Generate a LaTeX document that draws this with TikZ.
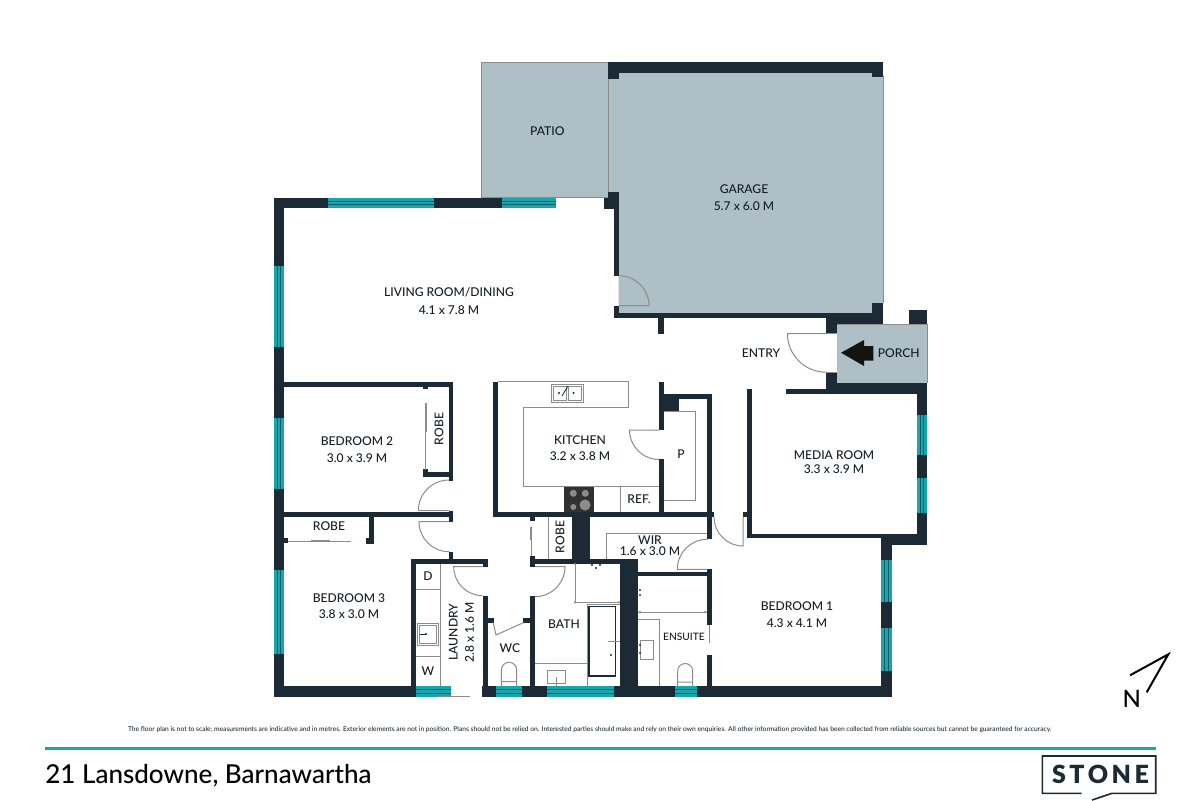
\documentclass[tikz,border=0pt]{standalone}
\usepackage{fontspec}
\setmainfont{Lato Medium}
\newfontfamily\logofont[LetterSpace=14]{Lato Black}
\definecolor{wallc}{HTML}{1B2A35}
\definecolor{slabc}{HTML}{AEC0C6}
\definecolor{glassc}{HTML}{18A6AC}
\definecolor{fixc}{HTML}{8C8C8C}
\definecolor{arrowc}{HTML}{12140F}
\tikzset{
	wall/.style={fill=wallc,draw=none},
	glass/.style={fill=glassc,draw=none},
	glassline/.style={draw=wallc!60!glassc,line width=.25pt},
	fixture/.style={draw=fixc,line width=.5pt},
	roomlabel/.style={text=wallc!70!black,font=\fontsize{6.05}{7}\selectfont,inner sep=0,outer sep=0,align=center}
}
\newcommand{\swing}[5]{\draw[fixture] (#1,#2) -- +(#3:#5) arc[start angle=#3,end angle=#4,radius=#5];}
\begin{document}
\begin{tikzpicture}[x=.5pt,y=-.5pt]
	\useasboundingbox (0,0) rectangle (1200,800);
	\fill[slabc] (481,62) rectangle (608,197.6);
	\fill[slabc] (608,62) -- (883,62) -- (883,313) -- (618.7,313) -- (618.7,197.6) -- (608,197.6) -- cycle;
	\fill[slabc] (836.7,324) rectangle (927,383);
	\draw[fixture] (608,197.6) -- (481,197.6) -- (481,62) -- (608,62) -- (608,192);
	\draw[fixture] (883,76) -- (883,303);
	\draw[fixture] (836.7,324) -- (927,324) -- (927,383);
	\foreach \xa/\ya/\xb/\yb in {608/62/883/73, 608/73/619/79, 872/73/883/76.5, 872/303/883/318, 613.7/313/883/318, 826/318/883/324, 826/324/836.7/333.7, 826/372/836.7/394, 826/383/927/394, 909/310/927/324, 786/389.3/826/394, 614/208.7/619/275.7, 608/192/619/197.6, 604/197.6/619/208.7, 613.7/305.7/618.7/318, 658/318/663.7/334, 273.7/197.7/284.3/696.7, 273.7/197.7/555.7/208.3, 273.7/686/450.7/697, 481.7/686/892/697, 881/538/892/697, 916.7/394/927/544.7, 746.7/533.7/927/538.3, 881/538/927/544.7, 746.7/389.3/751.7/538, 742.7/512/751/517.3, 284/381.7/453.3/386.7, 449/381.7/453.3/480.7, 423/386.7/428/388.5, 423/469/428/476.7, 423/471.7/453/476.7, 284/512.3/453.3/517.3, 449/510.7/453.3/521.7, 369.3/517/374.3/544, 366/538.3/374.3/544, 284/538.3/288/543, 449/551.7/453.3/560, 410.7/559/488/564, 482.7/559/488/566.7, 410.7/559/416/686, 482.7/595.7/488/686, 488/617.7/494.3/622.7, 530/595.7/535/686, 522.7/617.7/530/622.7, 493.3/381.7/498/517, 493.3/512.3/714/517, 659/381.7/663.7/430, 659/459.3/663.7/512.3, 659/394/679.3/411.3, 659/394/712/399, 707.3/394/712/539.3, 707.3/569.3/712/625, 707.3/655.3/712/686, 638.3/571.7/707.3/576, 620/559/638.3/686, 530/559/638/564, 530/556/535/566.7, 530/517/535/520.7, 571.7/517/590/559}
		\fill[wall] (\xa,\ya) rectangle (\xb,\yb);
	\foreach \xa/\xb/\ya/\yb in {327.7/434.3/197.7/208.3, 501.7/555.7/197.7/208.3, 416/450.7/686/697, 495.7/521.7/686/697, 546.7/614/686/697, 674.7/696.7/686/697} {
		\fill[glass] (\xa,\ya) rectangle (\xb,\yb);
		\draw[glassline] (\xa,\ya+3.5) -- (\xb,\ya+3.5) (\xa,\ya+7) -- (\xb,\ya+7);
	}
	\foreach \xa/\xb/\ya/\yb in {273.7/284.3/266.3/346.7, 273.7/284.3/418.3/489, 273.7/284.3/570.3/654.3, 916.7/927/414.7/455.3, 916.7/927/478/512.7, 881/892/560/602, 881/892/628.3/670.7} {
		\fill[glass] (\xa,\ya) rectangle (\xb,\yb);
		\draw[glassline] (\xa+3.5,\ya) -- (\xa+3.5,\yb) (\xa+7,\ya) -- (\xa+7,\yb);
	}
	\swing{619}{305.7}{0}{-90}{30}
	\swing{826}{333.7}{180}{90}{38.5}
	\draw[fixture] (826,333.7) -- (836.7,333.7) (826,372) -- (836.7,372);
	\swing{449}{510.7}{180}{270}{30.7}
	\swing{449}{521.7}{180}{90}{30}
	\swing{482.7}{566.7}{180}{90}{29}
	\swing{535}{566.7}{0}{90}{30}
	\swing{659}{430}{180}{90}{29.5}
	\swing{707.3}{569.3}{180}{270}{30}
	\swing{743}{517}{90}{180}{29}
	\draw[fixture] (493.3,622.7) -- (496,635) -- (523.3,622.7);
	\draw[fixture] (438.3,696.7) -- (470,696.7);
	\draw[fixture] (555.7,197.6) -- (604,197.6);
	\draw[fixture] (425,403) -- (425,470) (426.2,403) -- (426.2,432);
	\draw[fixture] (288,541.3) -- (351,541.3) (311,540.3) -- (330,540.3);
	\draw[fixture] (531.5,526.7) -- (531.5,556) (530.5,526.7) -- (530.5,540);
	\draw[fixture] (548.7,517) -- (548.7,559);
	\draw[fixture] (606.7,559) -- (606.7,533.3) -- (707.3,533.3);
	\draw[fixture] (498,381.7) -- (628.3,381.7) -- (628.3,407.3) -- (523.3,407.3) -- (523.3,486.7) -- (659,486.7);
	\draw[fixture] (620,486.7) -- (620,512.3);
	\draw[fixture] (663.7,411.3) -- (695,411.3) -- (695,500) -- (663.7,500);
	\fill[fixc!35!black] (564,486.7) rectangle (594,512.3);
	\foreach \cx/\cy/\cr in {573.3/493.3/3.5, 585.3/493.3/3.5, 573.3/507/3, 585/505/5.5}
		\fill[fixc] (\cx,\cy) circle[radius=\cr];
	\draw[fixture,fill=white] (551,384) rectangle (583,402.3);
	\draw[fixture] (553,386) rectangle (566,400) (568,386) rectangle (581,400);
	\fill[wallc] (559,393) circle[radius=1.2] (573.5,393) circle[radius=1.2];
	\draw[wallc,line width=.4pt] (562,396) -- (568,386);
	\draw[fixture] (416,589) -- (440.7,589) (416,656.7) -- (440.7,656.7) (440.7,564) -- (440.7,686);
	\draw[fixture] (417.7,623.3) rectangle (438.3,645.3) (419.5,625) rectangle (436.5,643.5);
	\draw[wallc,line width=.4pt] (420,634) -- (426,634);
	\fill[wallc] (426,634) circle[radius=1.2];
	\draw[fixture] (501.3,686) -- (501.3,670) arc[start angle=180,end angle=360,radius=7.7] -- (516.7,686) (501.3,681.7) -- (516.7,681.7);
	\draw[fixture] (575,564) -- (575,602.3) (575,602.3) -- (619.7,602.3);
	\fill[fixc] (575,564) circle[radius=1.2] (575,602.3) circle[radius=1.2] (619,602.3) circle[radius=1.2];
	\draw[fixture] (535,663.3) -- (587,663.3) (587,686) -- (587,604) -- (619.7,604);
	\draw[wallc,line width=.6pt] (589,606.7) rectangle (615.7,676);
	\draw[fixture] (608,641.5) -- (619.7,641.5);
	\fill[wallc] (611,655) circle[radius=1.2];
	\draw[fixture] (547,670) rectangle (565.7,683) (556,677) -- (556,686);
	\fill[wallc] (592,565) circle[radius=1.2] (596,568) circle[radius=1.2] (600,565) circle[radius=1.2];
	\draw[fixture] (638.3,612) -- (707.3,612);
	\fill[fixc] (640,612) circle[radius=1.2] (705,612) circle[radius=1.2];
	\draw[fixture] (638.3,619.3) -- (659.3,619.3) -- (659.3,686);
	\draw[fixture] (640,640.7) rectangle (653.7,659.3);
	\fill[wallc] (640,590) circle[radius=1.2] (640,595) circle[radius=1.2] (640,645) circle[radius=1.2] (640,653) circle[radius=1.2];
	\draw[fixture] (677.7,686) -- (677.7,671) arc[start angle=180,end angle=360,radius=7.5] -- (692.7,686) (677.7,682) -- (692.7,682);
	\draw[fixture,line width=.9pt] (709.5,625) -- (709.5,643);
	\fill[arrowc] (841,352.7) -- (864,340) -- (864,346) -- (873.3,346) -- (873.3,360.7) -- (864,360.7) -- (864,366) -- cycle;
	\node[roomlabel] (patio) at (547.3,131.3) {PATIO};
	\node[roomlabel] (garage) at (744,197.5) {GARAGE\\[1.2pt]5.7 x 6.0 M};
	\node[roomlabel] (living) at (449,301) {LIVING ROOM/DINING\\[1.8pt]4.1 x 7.8 M};
	\node[roomlabel] (entry) at (761,353.3) {ENTRY};
	\node[roomlabel] (porch) at (898.7,352.7) {PORCH};
	\node[roomlabel] (bed2) at (357,449.5) {BEDROOM 2\\[1.2pt]3.0 x 3.9 M};
	\node[roomlabel,rotate=90] (robe2) at (439,429) {ROBE};
	\node[roomlabel] (robe3) at (329,526) {ROBE};
	\node[roomlabel] (bed3) at (349,606) {BEDROOM 3\\[1.2pt]3.8 x 3.0 M};
	\node[roomlabel] (kitchen) at (580,448) {KITCHEN\\[1.2pt]3.2 x 3.8 M};
	\node[roomlabel] (pantry) at (681,454) {P};
	\node[roomlabel] (ref) at (639,499) {REF.};
	\node[roomlabel,rotate=90] (robe4) at (560,537) {ROBE};
	\node[roomlabel] (wir) at (650,545.5) {WIR\\[-1.6pt]1.6 x 3.0 M};
	\node[roomlabel] (media) at (834,462.5) {MEDIA ROOM\\3.3 x 3.9 M};
	\node[roomlabel] (bed1) at (797,614.5) {BEDROOM 1\\[1.2pt]4.3 x 4.1 M};
	\node[roomlabel,font=\fontsize{5.1}{6}\selectfont] (ensuite) at (684,637) {ENSUITE};
	\node[roomlabel] (bath) at (564,624) {BATH};
	\node[roomlabel] (wc) at (510,648) {WC};
	\node[roomlabel] (dryer) at (428,576) {D};
	\node[roomlabel] (washer) at (428,671) {W};
	\node[roomlabel,rotate=90] (laundry) at (461.5,632) {LAUNDRY\\[1.2pt]2.8 x 1.6 M};
	\draw[black,line width=1pt] (1130,675.3) -- (1168.3,654.3) -- (1146.7,692.3);
	\node[inner sep=0,font=\fontsize{12}{12}\selectfont] (north) at (1131.7,698.5) {N};
	\node[font=\fontsize{3.33}{4}\selectfont,text=wallc,inner sep=0] (note) at (589.5,730) {The floor plan is not to scale; measurements are indicative and in metres. Exterior elements are not in position. Plans should not be relied on. Interested parties should make and rely on their own enquiries. All other information provided has been collected from reliable sources but cannot be guaranteed for accuracy.};
	\fill[glassc] (45,746.8) rectangle (1156,749.8);
	\node[anchor=base west,inner sep=0,text=black,font=\fontsize{13}{15}\selectfont] (address) at (45,783) {21 Lansdowne, Barnawartha};
	\draw[wallc,line width=.8pt] (1081.7,793.3) -- (1042.3,793.3) -- (1042.3,756) -- (1155.7,756) -- (1155.7,793.3) -- (1112,793.3) -- (1092,800);
	\node[text=wallc,inner sep=0,font=\fontsize{12.5}{13}\logofont] (logo) at (1100.5,774.5) {STONE};
\end{tikzpicture}
\end{document}
